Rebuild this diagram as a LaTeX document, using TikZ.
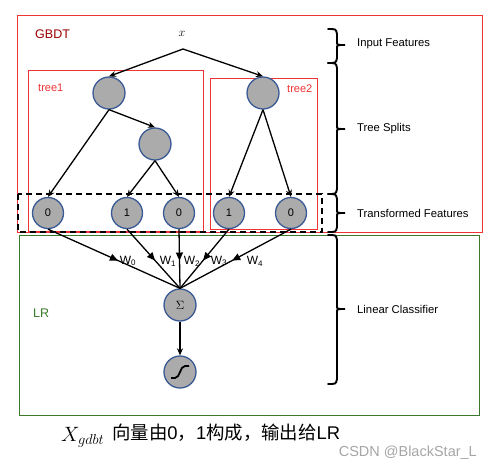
\documentclass[tikz,border=0pt]{standalone}
\usepackage{fontspec}
\setmainfont{Liberation Sans}
\newfontfamily\cjk{Noto Sans CJK SC}
\usetikzlibrary{arrows.meta,decorations.markings}
\definecolor{gbdtred}{HTML}{990000}
\definecolor{boxred}{HTML}{EE3333}
\definecolor{lrgreen}{HTML}{3A7A2A}
\definecolor{nodeblue}{HTML}{3A5A96}
\definecolor{nodegray}{HTML}{ABABAB}
\definecolor{wmgray}{HTML}{A6A6A6}
\newcommand{\gbrace}[3]{%
  \draw[bracestyle] (328,#1) .. controls (336,#1) .. (337,#1+5) -- (337,#2-3)
    .. controls (337,#2) .. (345,#2) .. controls (337,#2) .. (337,#2+3)
    -- (337,#3-5) .. controls (336,#3) .. (328,#3);}
\begin{document}
\begin{tikzpicture}[x=1pt,y=-1pt,
  neuron/.style={circle, draw=nodeblue, fill=nodegray, line width=1.3pt, minimum size=32pt, inner sep=0pt, font=\fontsize{11}{12}\selectfont},
  leafnode/.style={neuron, minimum size=31pt},
  arr/.style={-{Stealth[length=7pt,width=6pt]}, line width=1.3pt},
  warr/.style={line width=1.3pt, postaction={decorate}, decoration={markings, mark=at position 0.53 with {\arrow{Triangle[length=8pt,width=7pt]}}}},
  redbox/.style={draw=boxred, line width=0.9pt},
  bracelbl/.style={anchor=west, inner sep=0pt, font=\fontsize{11.3}{13}\selectfont},
  wlbl/.style={inner sep=0pt, font=\fontsize{12}{13}\selectfont},
  bracestyle/.style={line width=1.9pt, line cap=round}
]
\useasboundingbox (0,0) rectangle (492,472);
\fill[white] (0,0) rectangle (492,472);
% boxes
\draw[redbox] (17,15) rectangle (482,232);
\draw[redbox] (28,70) rectangle (203,231);
\draw[redbox] (210,78) rectangle (317,229);
\draw[line width=1.3pt, dash pattern=on 6pt off 4pt] (18,194) rectangle (322,232);
\draw[draw=lrgreen, line width=0.9pt] (19,235) rectangle (479,415);
% labels
\node[anchor=west, inner sep=0pt, text=gbdtred, font=\fontsize{12.5}{14}\selectfont] (gbdt) at (35,34) {GBDT};
\node[anchor=west, inner sep=0pt, text=boxred, font=\fontsize{11}{13}\selectfont] (t1lbl) at (38,88) {tree1};
\node[anchor=west, inner sep=0pt, text=boxred, font=\fontsize{11}{13}\selectfont] (t2lbl) at (287,89) {tree2};
\node[anchor=west, inner sep=0pt, text=lrgreen, font=\fontsize{12.5}{14}\selectfont] (lrlbl) at (33,313) {LR};
\node[inner sep=0pt, font=\fontsize{13}{14}\selectfont] (x) at (182,34) {$x$};
\coordinate (xsplit) at (183,49);
% nodes
\node[neuron] (r1) at (109,93) {};
\node[neuron] (i1) at (155,144) {};
\node[neuron] (r2) at (263,93) {};
\node[leafnode] (l0) at (48,213) {0};
\node[leafnode] (l1) at (127,213) {1};
\node[leafnode] (l2) at (179,213) {0};
\node[leafnode] (l3) at (229,213) {1};
\node[leafnode] (l4) at (291,213) {0};
\node[neuron, font=\fontsize{12}{13}\selectfont] (sig) at (180,305) {$\Sigma$};
\node[neuron] (sgm) at (180,372) {};
\draw[line width=1.8pt] (171,378) -- (175,378) .. controls (180,378) and (180,366) .. (185,366) -- (189,366);
% edges
\draw[arr] (xsplit) -- (r1.north);
\draw[arr] (xsplit) -- (r2.north);
\draw[arr] (r1.south) -- (i1.north);
\draw[arr] (r1.south) -- (l0.north);
\draw[arr] (i1.south) -- (l1.north);
\draw[arr] (i1.south) -- (l2.north);
\draw[arr] (r2.south) -- (l3.north);
\draw[arr] (r2.south) -- (l4.north);
\draw[warr] (l0.south) -- (sig.north);
\draw[warr] (l1.south) -- (sig.north);
\draw[warr] (l2.south) -- (sig.north);
\draw[warr] (l3.south) -- (sig.north);
\draw[warr] (l4.south) -- (sig.north);
\draw[arr] (sig) -- (sgm);
% weights
\node[wlbl] (w0) at (128,261) {W\textsubscript{0}};
\node[wlbl] (w1) at (168,261) {W\textsubscript{1}};
\node[wlbl] (w2) at (192,261) {W\textsubscript{2}};
\node[wlbl] (w3) at (219,261) {W\textsubscript{3}};
\node[wlbl] (w4) at (255,261) {W\textsubscript{4}};
% braces
\gbrace{29}{45}{63}
\gbrace{63}{129}{194}
\gbrace{194}{213}{232}
\gbrace{235}{309}{384}
\node[bracelbl] (inf) at (357,44) {Input Features};
\node[bracelbl] (ts) at (357,129) {Tree Splits};
\node[bracelbl] (tf) at (357,213) {Transformed Features};
\node[bracelbl] (lc) at (357,309) {Linear Classifier};
% bottom text
\node[anchor=west, inner sep=0pt, font=\fontsize{20}{22}\selectfont] (xg) at (61,437) {$X_{gdbt}$};
\node[anchor=west, inner sep=0pt, font=\fontsize{18.4}{20}\selectfont] (cap) at (112,433) {{\cjk 向量由}0{\cjk ，}1{\cjk 构成，输出给}LR};
\node[anchor=east, inner sep=0pt, text=wmgray, font=\fontsize{14.5}{16}\selectfont] (wm) at (477,453) {CSDN @BlackStar\_L};
\end{tikzpicture}
\end{document}
